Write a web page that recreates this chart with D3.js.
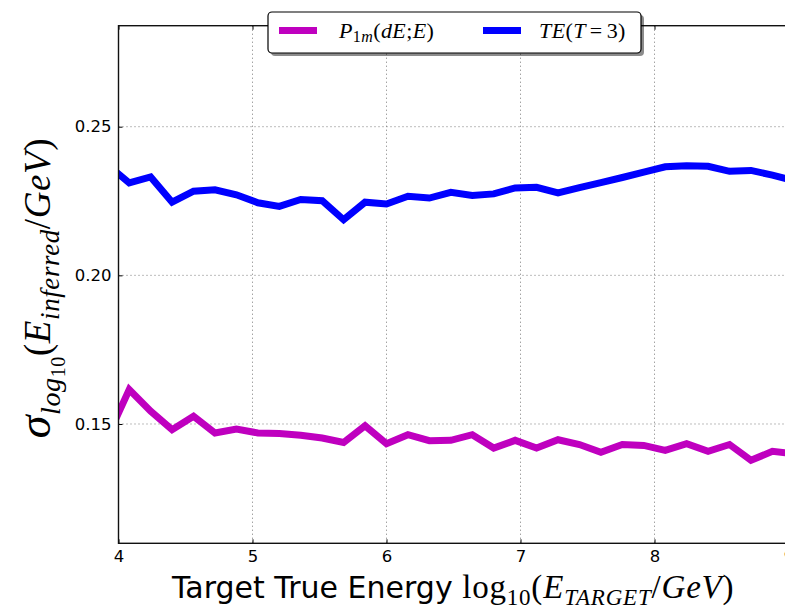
<!DOCTYPE html>
<html>
<head>
<meta charset="utf-8">
<script src="https://cdn.jsdelivr.net/npm/d3@7"></script>
<style>
  html, body { margin: 0; padding: 0; background: #fff; overflow: hidden; }
  svg { display: block; }
  .tick text { font-family: "DejaVu Sans", sans-serif; font-size: 16.5px; fill: #000; }
  .math { font-family: "Liberation Serif", "DejaVu Serif", serif; }
</style>
</head>
<body>
<svg id="chart" width="785" height="610"></svg>
<script>
// Bin centres in log10(E_target / GeV)
const energyBins = [3.92, 4.08, 4.24, 4.40, 4.56, 4.72, 4.88, 5.04, 5.20, 5.36, 5.52,
  5.68, 5.84, 6.00, 6.16, 6.32, 6.48, 6.64, 6.80, 6.96, 7.12, 7.28, 7.44, 7.60,
  7.76, 7.92, 8.08, 8.24, 8.40, 8.56, 8.72, 8.88, 9.04];

// Resolution of the inferred energy, P_1m(dE;E) estimator
const sigmaP1m = [0.1458, 0.1616, 0.1543, 0.1481, 0.1526, 0.1470, 0.1483, 0.1470,
  0.1468, 0.1462, 0.1453, 0.1438, 0.1494, 0.1434, 0.1464, 0.1444, 0.1445, 0.1464,
  0.1419, 0.1445, 0.1419, 0.1447, 0.1431, 0.1405, 0.1431, 0.1428, 0.1411, 0.1434,
  0.1408, 0.1431, 0.1378, 0.1408, 0.1400];

// Resolution of the inferred energy, truncated-energy method (T=3)
const sigmaTE = [0.2371, 0.2311, 0.2331, 0.2246, 0.2283, 0.2288, 0.2271, 0.2244,
  0.2232, 0.2255, 0.2251, 0.2187, 0.2246, 0.2240, 0.2266, 0.2260, 0.2279, 0.2269,
  0.2274, 0.2294, 0.2296, 0.2277, 0.2295, 0.2312, 0.2329, 0.2347, 0.2365, 0.2369,
  0.2367, 0.2350, 0.2353, 0.2337, 0.2319];

const xTicks = [4, 5, 6, 7, 8, 9];
const yTicks = [0.15, 0.20, 0.25];

const seriesNames = ["P1m", "TE"];
const seriesColors = ["#bf00bf", "#0000ff"];

const svg = d3.select("#chart");
const plot = { left: 118.5, right: 788.5, top: 25.7, bottom: 543.3 };

const x = d3.scaleLinear().domain([4, 9]).range([plot.left, plot.right]);
const y = d3.scaleLinear().domain([0.10987, 0.28397]).range([plot.bottom, plot.top]);

svg.append("defs").append("clipPath").attr("id", "plotclip")
  .append("rect")
  .attr("x", plot.left).attr("y", plot.top)
  .attr("width", plot.right - plot.left).attr("height", plot.bottom - plot.top);

// dotted grid
const grid = svg.append("g").attr("stroke", "#7a7a7a").attr("stroke-width", 1)
  .attr("stroke-dasharray", "1,3");
grid.selectAll(".gx").data(xTicks.slice(1, -1)).join("line")
  .attr("x1", d => x(d)).attr("x2", d => x(d))
  .attr("y1", plot.top).attr("y2", plot.bottom);
grid.selectAll(".gy").data(yTicks).join("line")
  .attr("x1", plot.left).attr("x2", plot.right)
  .attr("y1", d => y(d)).attr("y2", d => y(d));

// data lines
const line = d3.line().x(d => x(d[0])).y(d => y(d[1]));
const series = [sigmaP1m, sigmaTE];
const lines = svg.append("g").attr("clip-path", "url(#plotclip)");
series.forEach((vals, i) => {
  lines.append("path")
    .datum(energyBins.map((e, j) => [e, vals[j]]))
    .attr("fill", "none")
    .attr("stroke", seriesColors[i])
    .attr("stroke-width", 7)
    .attr("stroke-linejoin", "miter")
    .attr("d", line);
});

// axes with inward ticks
const xAxis = d3.axisBottom(x).tickValues(xTicks).tickFormat(d3.format("d"))
  .tickSizeInner(-4).tickSizeOuter(0).tickPadding(7);
const gx = svg.append("g").attr("transform", `translate(0,${plot.bottom})`).call(xAxis);
gx.select(".domain").remove();
gx.selectAll(".tick line").attr("stroke", "#000");

const xTop = d3.axisTop(x).tickValues(xTicks).tickFormat("")
  .tickSizeInner(-4).tickSizeOuter(0);
const gxt = svg.append("g").attr("transform", `translate(0,${plot.top})`).call(xTop);
gxt.select(".domain").remove();

const yAxis = d3.axisLeft(y).tickValues(yTicks).tickFormat(d3.format(".2f"))
  .tickSizeInner(-4).tickSizeOuter(0).tickPadding(7);
const gy = svg.append("g").attr("transform", `translate(${plot.left},0)`).call(yAxis);
gy.select(".domain").remove();

// frame
svg.append("rect")
  .attr("x", plot.left).attr("y", plot.top)
  .attr("width", plot.right - plot.left).attr("height", plot.bottom - plot.top)
  .attr("fill", "none").attr("stroke", "#111").attr("stroke-width", 1.4);

// helper: append a run of styled tspans
function runs(textSel, parts) {
  parts.forEach(p => {
    const t = textSel.append("tspan").text(p.t);
    if (p.i) t.attr("font-style", "italic");
    if (p.s) t.attr("font-size", p.s);
    if (p.dy) t.attr("dy", p.dy);
    if (p.dx) t.attr("dx", p.dx);
  });
}

// x-axis title
const xt = svg.append("text").attr("x", 172).attr("y", 598).attr("fill", "#000");
xt.append("tspan").attr("font-family", "DejaVu Sans, sans-serif").attr("font-size", 30)
  .text("Target True Energy ");
const xm = xt.append("tspan").attr("class", "math").attr("font-size", 33)
  .attr("letter-spacing", 0.8);
runs(xm, [
  { t: "log" },
  { t: "10", s: 23, dy: 7 },
  { t: "(", dy: -7 },
  { t: "E", i: true },
  { t: "TARGET", i: true, s: 23, dy: 7 },
  { t: "/", dy: -7 },
  { t: "GeV", i: true },
  { t: ")" }
]);

// y-axis title
const yt = svg.append("text").attr("class", "math")
  .attr("transform", "translate(50,288) rotate(-90)")
  .attr("text-anchor", "middle").attr("font-size", 37).attr("fill", "#000")
  .attr("letter-spacing", 0.6);
runs(yt, [
  { t: "σ", i: true, s: 46 },
  { t: "log", i: true, s: 28, dy: 10 },
  { t: "10", s: 20, dy: 5 },
  { t: "(", dy: -15 },
  { t: "E", i: true },
  { t: "inferred", i: true, s: 27, dy: 9 },
  { t: "/", dy: -9 },
  { t: "GeV", i: true },
  { t: ")" }
]);

// legend
const lg = svg.append("g");
lg.append("rect").attr("x", 271).attr("y", 15).attr("width", 373).attr("height", 41)
  .attr("rx", 4).attr("fill", "#000").attr("opacity", 0.45);
lg.append("rect").attr("x", 268).attr("y", 12).attr("width", 373).attr("height", 41)
  .attr("rx", 4).attr("fill", "#fff").attr("stroke", "#000").attr("stroke-width", 1.2);

const legendLabels = [
  [{ t: "P", i: true }, { t: "1", s: 16, dy: 4 }, { t: "m", i: true, s: 16 },
   { t: "(", dy: -4 }, { t: "dE", i: true }, { t: ";" }, { t: "E", i: true }, { t: ")" }],
  [{ t: "TE", i: true }, { t: "(" }, { t: "T", i: true }, { t: "=", dx: 4 },
   { t: "3", dx: 4 }, { t: ")" }]
];
const legendX = [279, 483];
const legendTextDx = [60, 56];
seriesNames.forEach((name, i) => {
  lg.append("line")
    .attr("x1", legendX[i]).attr("x2", legendX[i] + 38)
    .attr("y1", 30.5).attr("y2", 30.5)
    .attr("stroke", seriesColors[i]).attr("stroke-width", 7);
  const t = lg.append("text").attr("class", "math")
    .attr("x", legendX[i] + legendTextDx[i]).attr("y", 38).attr("font-size", 22)
    .attr("letter-spacing", 0.4).attr("fill", "#000");
  runs(t, legendLabels[i]);
});
</script>
</body>
</html>
